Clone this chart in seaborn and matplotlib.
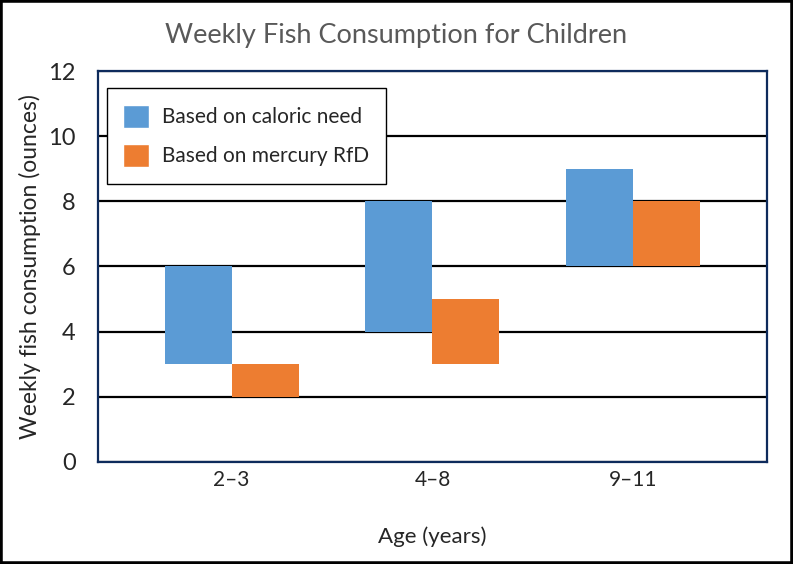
"""Weekly fish consumption ranges for children, drawn as floating bars."""

import matplotlib

matplotlib.use("Agg")

import matplotlib.pyplot as plt
import pandas as pd
import seaborn as sns
from matplotlib.patches import Rectangle

ages = ["2–3", "4–8", "9–11"]
series = ["Based on caloric need", "Based on mercury RfD"]
caloric_low = [3, 4, 6]
caloric_high = [6, 8, 9]
mercury_low = [2, 3, 6]
mercury_high = [3, 5, 8]
y_ticks = [0, 2, 4, 6, 8, 10, 12]

colors = ["#5B9BD5", "#ED7D31"]

frame = pd.DataFrame(
    {
        "age": ages * 2,
        "basis": [series[0]] * 3 + [series[1]] * 3,
        "low": caloric_low + mercury_low,
        "high": caloric_high + mercury_high,
    }
)

sns.set_theme(style="white")
plt.rcParams["font.family"] = ["Lato", "DejaVu Sans"]

fig = plt.figure(figsize=(7.93, 5.64), dpi=100)
ax = fig.add_axes([0.1236, 0.181, 0.8434, 0.693])

sns.barplot(
    data=frame,
    x="age",
    y="high",
    hue="basis",
    palette=colors,
    width=0.667,
    saturation=1,
    errorbar=None,
    ax=ax,
    zorder=3,
)

# turn the bars into floating ranges
for container, level in zip(ax.containers, series):
    lows = frame.loc[frame["basis"] == level, "low"].tolist()
    highs = frame.loc[frame["basis"] == level, "high"].tolist()
    for patch, lo, hi in zip(container, lows, highs):
        patch.set_y(lo)
        patch.set_height(hi - lo)
        patch.set_linewidth(0)

ax.set_ylim(0, 12)
ax.set_xlim(-0.665, 2.665)
ax.set_yticks(y_ticks)
ax.yaxis.grid(True, color="black", linewidth=1.6)
ax.set_axisbelow(True)
ax.tick_params(axis="y", labelsize=17, pad=16, length=0)
ax.tick_params(axis="x", labelsize=15, pad=6, length=0)
for spine in ax.spines.values():
    spine.set_color("#0E2B5C")
    spine.set_linewidth(1.6)

ax.set_xlabel("Age (years)", fontsize=16, labelpad=26)
ax.set_ylabel("Weekly fish consumption (ounces)", fontsize=16.5, labelpad=5)
fig.suptitle("Weekly Fish Consumption for Children", fontsize=19.5, color="#595959", y=0.96)

leg = ax.legend(
    loc="upper left",
    bbox_to_anchor=(0.013, 0.957),
    borderaxespad=0,
    fontsize=15,
    frameon=True,
    fancybox=False,
    edgecolor="black",
    framealpha=1,
    handlelength=1.25,
    handleheight=1.35,
    handletextpad=0.6,
    labelspacing=0.75,
    borderpad=0.8,
)
leg.get_frame().set_linewidth(1.0)
leg.set_zorder(5)

fig.patches.append(
    Rectangle((0, 0), 1, 1, transform=fig.transFigure, fill=False,
              edgecolor="black", linewidth=4)
)

fig.savefig("out.png", dpi=100)
